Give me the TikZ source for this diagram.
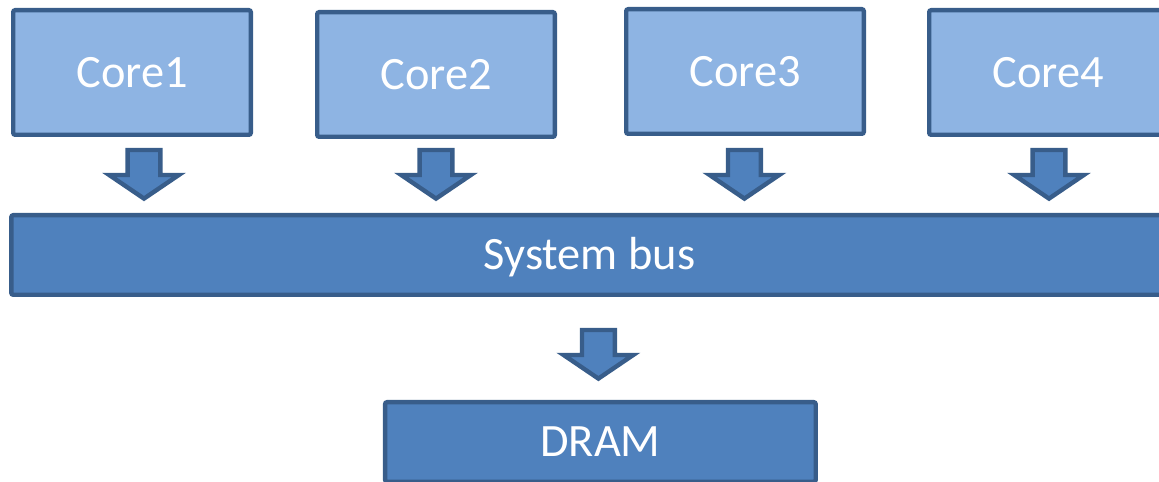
\documentclass[tikz,border=0pt]{standalone}
\usepackage{fontspec}
\setmainfont{Carlito}
\usepackage{xcolor}
\usepackage{tikz}
\definecolor{corefill}{HTML}{8EB4E3}
\definecolor{busfill}{HTML}{4F81BD}
\definecolor{edgeblue}{HTML}{385D8A}
\tikzset{
  box/.style={draw=edgeblue, line width=0.11cm, rounded corners=0.05cm, inner sep=0pt,
              text=white, font=\fontsize{33}{40}\selectfont, text height=26.4pt, text depth=5.3pt},
  corebox/.style={box, fill=corefill, minimum width=5.94cm, minimum height=3.115cm},
  busbox/.style={box, fill=busfill, minimum height=1.99cm},
  arrowbox/.style={draw=edgeblue, fill=busfill, line width=0.11cm, line join=miter},
  downarrow/.pic={
    \draw[arrowbox] (-0.41,0.625) -- (0.41,0.625) -- (0.41,0) -- (0.87,0) -- (0,-0.59)
                    -- (-0.87,0) -- (-0.41,0) -- cycle;
  }
}
\begin{document}
\begin{tikzpicture}
      \useasboundingbox (0, 0) rectangle (28.975, -12.05);

      \node[corebox](Core1) at (3.3, -1.8125) {Core1};
      \node[corebox](Core2) at (10.9, -1.8625) {Core2};
      \node[corebox](Core3) at (18.625, -1.7875) {Core3};
      \node[corebox](Core4) at (26.2, -1.8125) {Core4};

      \node[busbox, minimum width=28.915cm](Bus) at (14.74, -6.375) {System bus};
      \node[busbox, minimum width=10.765cm](Dram) at (15.01, -11.05) {DRAM};

      \pic at (3.6, -4.375) {downarrow};
      \pic at (10.9, -4.375) {downarrow};
      \pic at (18.61, -4.375) {downarrow};
      \pic at (26.225, -4.375) {downarrow};
      \pic at (14.96, -8.875) {downarrow};
\end{tikzpicture}
\end{document}
